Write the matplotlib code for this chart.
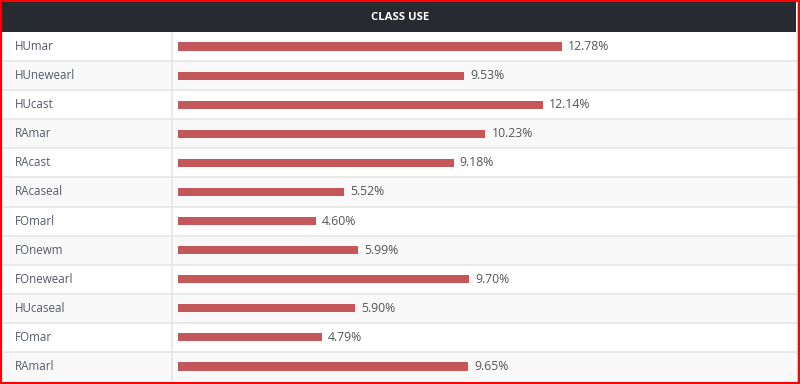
import matplotlib
matplotlib.use("Agg")
import matplotlib.pyplot as plt
from matplotlib.patches import Rectangle

categories = ["HUmar", "HUnewearl", "HUcast", "RAmar", "RAcast", "RAcaseal",
              "FOmarl", "FOnewm", "FOnewearl", "HUcaseal", "FOmar", "RAmarl"]
values = [12.78, 9.53, 12.14, 10.23, 9.18, 5.52, 4.60, 5.99, 9.70, 5.90, 4.79, 9.65]
title = "CLASS USE"

W, H = 800, 384
fig = plt.figure(figsize=(W / 100, H / 100), dpi=100)
fig.patch.set_facecolor("white")

def fx(px):
    return px / W

def fy(py):
    return 1 - py / H

# header bar
fig.patches.append(Rectangle((fx(2), fy(32)), fx(796) - fx(2), fy(2) - fy(32),
                             transform=fig.transFigure, facecolor="#272a31",
                             edgecolor="none", zorder=0))
fig.text(fx(400), fy(17), title, color="white", fontsize=8.2, fontweight="bold",
         family="Open Sans", ha="center", va="center")

# table axes
left_px, right_px, top_px, bot_px = 2, 797, 32, 381
ax = fig.add_axes([fx(left_px), fy(bot_px), fx(right_px - left_px), (bot_px - top_px) / H])
pxu = 30.05  # pixels per percent
zero_px = 178
ax.set_xlim(-(zero_px - left_px) / pxu, (right_px - zero_px) / pxu)
n = len(categories)
ax.set_ylim(n - 0.5, -0.5)
ax.axis("off")

for i in range(n):
    ax.axhspan(i - 0.5, i + 0.5, facecolor="white" if i % 2 == 0 else "#f9f9f9",
               edgecolor="none", zorder=0)
    if i > 0:
        ax.axhline(i - 0.5, color="#e6e6e6", lw=1.2, zorder=1)
ax.axvline(-(zero_px - 172) / pxu, color="#e6e6e6", lw=1.2, zorder=1)

ax.barh(range(n), values, height=0.28, color="#c4575a", zorder=2)
for i, (c, v) in enumerate(zip(categories, values)):
    ax.text((15 - left_px) / (right_px - left_px), i, c, transform=ax.get_yaxis_transform(),
            ha="left", va="center", fontsize=8.4, color="#555a66", family="Open Sans")
    ax.text(v + 6 / pxu, i, f"{v:.2f}%", ha="left", va="center", fontsize=8.8,
            color="#555555", family="Open Sans", zorder=3)

# right table edge
fig.add_artist(plt.Line2D([fx(797), fx(797)], [fy(381), fy(2)], color="#cccccc", lw=1,
                          transform=fig.transFigure))
# red outer border
fig.patches.append(Rectangle((fx(1), fy(383)), fx(798), fy(1) - fy(383),
                             transform=fig.transFigure, facecolor="none",
                             edgecolor="#ff0000", lw=1.5, zorder=10))

fig.savefig("out.png", dpi=100, facecolor=fig.get_facecolor())
